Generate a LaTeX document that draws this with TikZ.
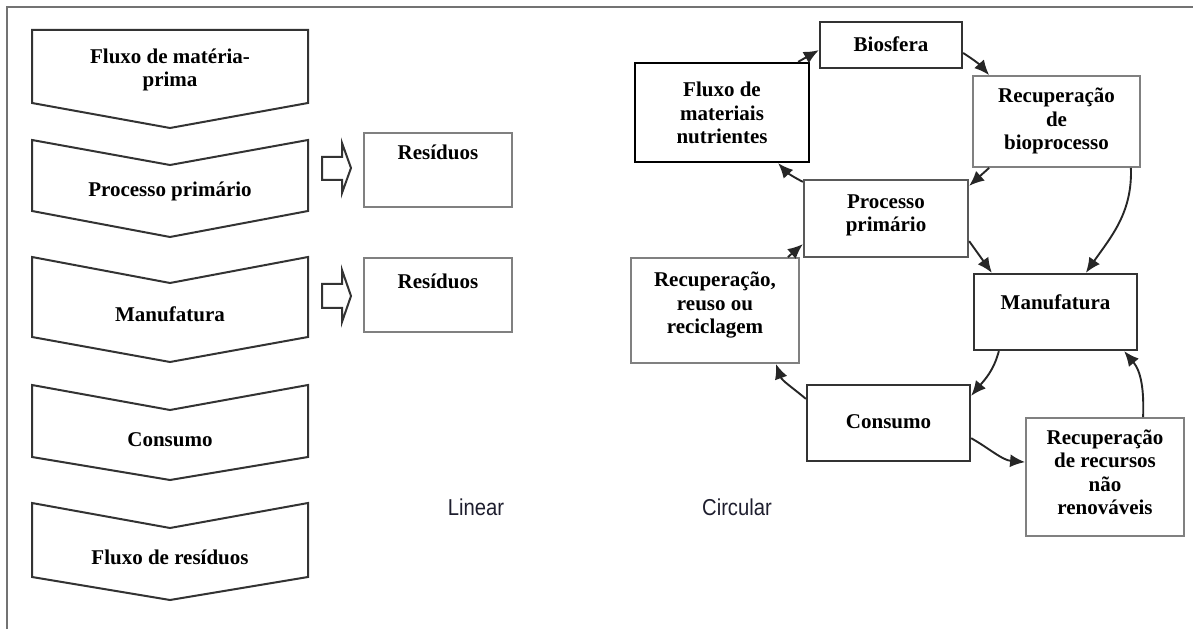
\documentclass[tikz,border=0pt]{standalone}
\usepackage{fontspec}
\setmainfont{Liberation Serif}
\setsansfont{Liberation Sans}
\usetikzlibrary{arrows.meta,calc}
\definecolor{capcol}{RGB}{30,30,46}
\begin{document}
\begin{tikzpicture}[x=1pt,y=1pt,
  lbl/.style={font=\fontsize{21}{23.5}\selectfont\bfseries, align=center, anchor=base, inner sep=0pt},
  chev/.style={draw=black!80, line width=2pt, line join=miter},
  blockarrow/.style={draw=black!80, line width=2pt, line join=miter},
  darkbox/.style={draw=black!80, line width=2.3pt, inner sep=0pt},
  lightbox/.style={draw=black!50, line width=1.8pt, inner sep=0pt},
  conn/.style={line width=1.9pt, draw=black!85, -{Latex[length=15pt,width=13pt]}},
  caption/.style={font=\sffamily\fontsize{23}{27}\selectfont, text=capcol, inner sep=0pt}
]
\useasboundingbox (0,0) rectangle (1193,629);

% outer frame (top and left edges)
\draw[black!55, line width=2pt] (7,0) -- (7,622) -- (1193,622);

% ---------- linear model: chevron stages ----------
\draw[chev] (32,599) -- (308,599) -- (308,526) -- (170,501) -- (32,526) -- cycle;
\draw[chev] (32,489) -- (170,464) -- (308,489) -- (308,418) -- (170,392) -- (32,418) -- cycle;
\draw[chev] (32,372) -- (170,346) -- (308,372) -- (308,292) -- (170,267) -- (32,292) -- cycle;
\draw[chev] (32,244) -- (170,219) -- (308,244) -- (308,172) -- (170,149) -- (32,172) -- cycle;
\draw[chev] (32,126) -- (170,101) -- (308,126) -- (308,52)  -- (170,29)  -- (32,52)  -- cycle;

\node[lbl] (lin1) at (170,542) {Fluxo de matéria-\\prima};
\node[lbl] (lin2) at (170,432) {Processo primário};
\node[lbl] (lin3) at (170,307) {Manufatura};
\node[lbl] (lin4) at (170,182) {Consumo};
\node[lbl] (lin5) at (170,65)  {Fluxo de resíduos};

% block arrows towards the waste boxes
\draw[blockarrow] (322,472) -- (342,472) -- (342,486) -- (351,461) -- (342,436) -- (342,449) -- (322,449) -- cycle;
\draw[blockarrow] (322,345) -- (342,345) -- (342,359) -- (351,333) -- (342,307) -- (342,321) -- (322,321) -- cycle;

\node[lightbox, minimum width=148, minimum height=74] (res1) at (438,459) {};
\node[lightbox, minimum width=148, minimum height=74] (res2) at (438,334) {};
\node[lbl] (res1t) at (438,469) {Resíduos};
\node[lbl] (res2t) at (438,340) {Resíduos};

% captions
\node[caption] (linear) at (476,122) {\scalebox{0.88}[1]{Linear}};
\node[caption] (circular) at (737,122) {\scalebox{0.88}[1]{Circular}};

% ---------- circular model: boxes ----------
\node[darkbox, minimum width=142, minimum height=46] (bio)  at (891,584)    {};
\node[darkbox, draw=black, minimum width=174, minimum height=99] (flux) at (722,516.5) {};
\node[darkbox, draw=black!65, minimum width=164, minimum height=77] (proc) at (886,410.5) {};
\node[lightbox, minimum width=167, minimum height=91] (rbio) at (1056.5,507.5) {};
\node[darkbox, minimum width=163, minimum height=76] (manu) at (1055.5,317) {};
\node[lightbox, minimum width=168, minimum height=105] (rreu) at (715,318.5) {};
\node[darkbox, minimum width=163, minimum height=76] (cons) at (888.5,206) {};
\node[lightbox, minimum width=158, minimum height=118] (rrec) at (1105,152) {};

\node[lbl] (biot)  at (891,577)  {Biosfera};
\node[lbl] (fluxt) at (722,485)  {Fluxo de\\materiais\\nutrientes};
\node[lbl] (proct) at (886,397)  {Processo\\primário};
\node[lbl] (rbiot) at (1056.5,479) {Recuperação\\de\\bioprocesso};
\node[lbl] (manut) at (1055.5,319) {Manufatura};
\node[lbl] (rreut) at (715,295)  {Recuperação,\\reuso ou\\reciclagem};
\node[lbl] (const) at (888.5,200) {Consumo};
\node[lbl] (rrect) at (1105,114) {Recuperação\\de recursos\\não\\renováveis};

% ---------- circular model: flows ----------
\draw[conn] ($(flux.north east)+(-12,0)$) -- ($(bio.south west)+(0,19)$);
\draw[conn] ($(bio.east)+(0,-8)$) to[bend left=8] ($(rbio.north west)+(17,0)$);
\draw[conn] ($(rbio.south west)+(17,0)$) -- ($(proc.north east)+(0,-7)$);
\draw[conn] ($(proc.north west)+(0,-3)$) to[bend left=10] ($(flux.south east)+(-32,0)$);
\draw[conn] ($(rbio.south east)+(-10,0)$) to[out=-88,in=55] ($(manu.north west)+(113,0)$);
\draw[conn] ($(proc.south east)+(0,17)$) -- ($(manu.north west)+(19,0)$);
\draw[conn] ($(manu.south west)+(26,0)$) to[out=-105,in=50] ($(cons.north east)+(0,-12)$);
\draw[conn] ($(cons.south east)+(0,24)$) to[out=-30,in=175] ($(rrec.north west)+(0,-45)$);
\draw[conn] ($(rrec.north west)+(118,0)$) to[out=88,in=-50] ($(manu.south east)+(-14,0)$);
\draw[conn] ($(cons.north west)+(0,-15)$) to[out=140,in=-70] ($(rreu.south east)+(-24,0)$);
\draw[conn] ($(rreu.north east)+(-12,0)$) -- ($(proc.south west)+(0,14)$);
\end{tikzpicture}
\end{document}
